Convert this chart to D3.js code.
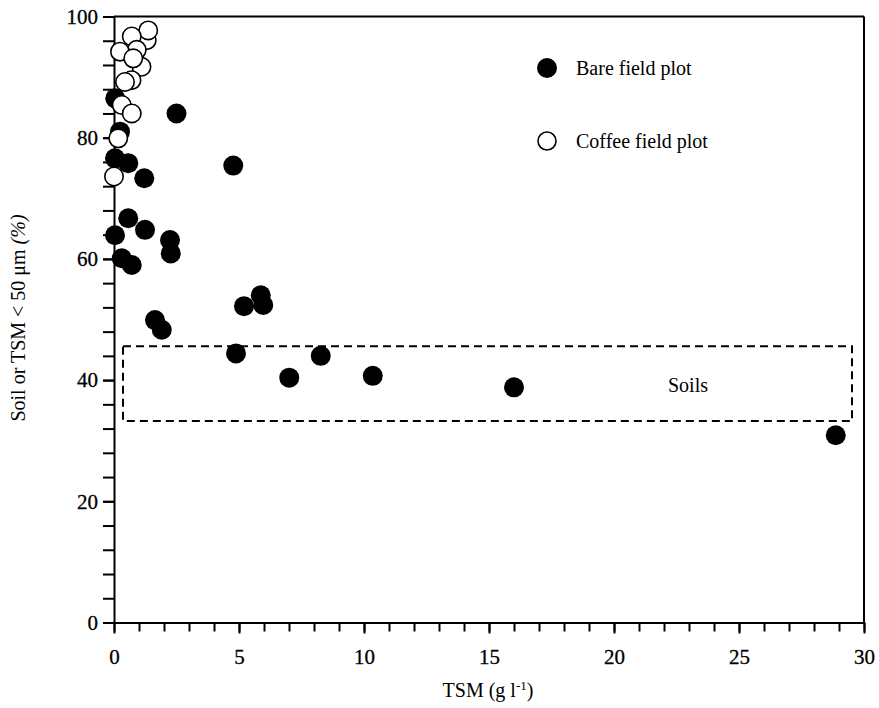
<!DOCTYPE html>
<html>
<head>
<meta charset="utf-8">
<script src="https://cdn.jsdelivr.net/npm/d3@7"></script>
<style>
  body { margin: 0; background: #fff; }
  svg text { font-family: "Liberation Serif", "Times New Roman", serif; }
</style>
</head>
<body>
<div id="chart"></div>
<script>
// bare field plot (TSM g/l, % < 50 um)
var bareTSM = [2.5, 4.77, 0.05, 1.21, 0.57, 0.04, 0.24, 0.57, 0.04, 1.24, 2.24, 2.27, 0.31, 0.71,
  1.64, 1.91, 4.88, 5.2, 5.87, 5.97, 7.01, 8.27, 10.35, 16.0, 28.87];
var barePct = [84.0, 75.4, 86.5, 73.3, 75.8, 76.6, 81.0, 66.7, 63.9, 64.8, 63.1, 60.9, 60.1, 59.0,
  49.9, 48.3, 44.4, 52.2, 54.0, 52.4, 40.4, 44.0, 40.7, 38.8, 30.9];
// coffee field plot
var coffeeTSM = [1.31, 1.37, 0.71, 0.91, 0.24, 1.1, 0.77, 0.7, 0.44, 0.31, 0.71, 0.17, 0.0];
var coffeePct = [96.1, 97.7, 96.7, 94.5, 94.2, 91.7, 93.1, 89.5, 89.2, 85.4, 84.0, 79.9, 73.6];
// soils range box
var soilsTSM = [0.36, 29.52];
var soilsPct = [33.25, 45.6];
var xMajor = [0, 5, 10, 15, 20, 25, 30];
var yMajor = [0, 20, 40, 60, 80, 100];

var W = 879, H = 708;
var svg = d3.select("#chart").append("svg").attr("width", W).attr("height", H);

var x = d3.scaleLinear().domain([0, 30]).range([114, 864]);
var y = d3.scaleLinear().domain([0, 100]).range([622.5, 16.5]);

function styleAxis(g) {
  g.attr("font-family", "Liberation Serif").attr("font-size", 21);
  g.selectAll(".domain").attr("stroke-width", 2);
  g.selectAll(".tick line").attr("stroke-width", 2);
  g.selectAll(".tick text").attr("fill", "#000").attr("stroke", "#000").attr("stroke-width", 0.3);
}

// frame top + right
svg.append("line").attr("x1", x(0)).attr("x2", x(30)).attr("y1", y(100)).attr("y2", y(100))
  .attr("stroke", "#000").attr("stroke-width", 2);
svg.append("line").attr("x1", x(30)).attr("x2", x(30)).attr("y1", y(100)).attr("y2", y(0))
  .attr("stroke", "#000").attr("stroke-width", 2);

// x axis
svg.append("g").attr("transform", "translate(0," + y(0) + ")")
  .call(d3.axisBottom(x).tickValues(d3.range(0, 31)).tickSize(9).tickSizeOuter(0).tickFormat(""))
  .call(styleAxis);
var gx2 = svg.append("g").attr("transform", "translate(0," + y(0) + ")")
  .call(d3.axisBottom(x).tickValues(xMajor).tickSize(11).tickSizeOuter(0).tickPadding(16).tickFormat(d3.format("d")))
  .call(styleAxis);
gx2.select(".domain").remove();

// y axis
svg.append("g").attr("transform", "translate(" + x(0) + ",0)")
  .call(d3.axisLeft(y).tickValues(d3.range(0, 101, 4)).tickSize(11).tickSizeOuter(0).tickFormat(""))
  .call(styleAxis);
var gy2 = svg.append("g").attr("transform", "translate(" + x(0) + ",0)")
  .call(d3.axisLeft(y).tickValues(yMajor).tickSize(11).tickSizeOuter(0).tickPadding(5).tickFormat(d3.format("d")))
  .call(styleAxis);
gy2.select(".domain").remove();

// axis titles
var xt = svg.append("text").attr("x", 488).attr("y", 697).attr("text-anchor", "middle").style("font-size", "20px");
xt.append("tspan").text("TSM (g l");
xt.append("tspan").text("-1").attr("dy", -7).style("font-size", "13px");
xt.append("tspan").text(")").attr("dy", 7);

var yt = svg.append("text").attr("transform", "translate(25,318) rotate(-90)")
  .attr("text-anchor", "middle").style("font-size", "20px");
yt.append("tspan").text("Soil or TSM < 50 \u03bcm ");
yt.append("tspan").text("(%)").style("font-style", "italic");

// soils box
svg.append("rect")
  .attr("x", x(soilsTSM[0])).attr("y", y(soilsPct[1]))
  .attr("width", x(soilsTSM[1]) - x(soilsTSM[0]))
  .attr("height", y(soilsPct[0]) - y(soilsPct[1]))
  .attr("fill", "none").attr("stroke", "#000").attr("stroke-width", 2).attr("stroke-dasharray", "8,5");
svg.append("text").attr("x", 688).attr("y", 392).attr("text-anchor", "middle").style("font-size", "20px").text("Soils");

// points
var bare = bareTSM.map(function (d, i) { return { t: d, p: barePct[i] }; });
var coffee = coffeeTSM.map(function (d, i) { return { t: d, p: coffeePct[i] }; });

svg.selectAll(".bare").data(bare).enter().append("circle").attr("class", "bare")
  .attr("cx", function (d) { return x(d.t); }).attr("cy", function (d) { return y(d.p); })
  .attr("r", 10).attr("fill", "#000");
svg.selectAll(".coffee").data(coffee).enter().append("circle").attr("class", "coffee")
  .attr("cx", function (d) { return x(d.t); }).attr("cy", function (d) { return y(d.p); })
  .attr("r", 9.2).attr("fill", "#fff").attr("stroke", "#000").attr("stroke-width", 1.6);

// legend
svg.append("circle").attr("cx", 547).attr("cy", 68).attr("r", 10).attr("fill", "#000");
svg.append("text").attr("x", 576).attr("y", 75).style("font-size", "20px").text("Bare field plot");
svg.append("circle").attr("cx", 547).attr("cy", 141).attr("r", 9).attr("fill", "#fff").attr("stroke", "#000").attr("stroke-width", 1.6);
svg.append("text").attr("x", 576).attr("y", 148).style("font-size", "20px").text("Coffee field plot");
</script>
</body>
</html>
